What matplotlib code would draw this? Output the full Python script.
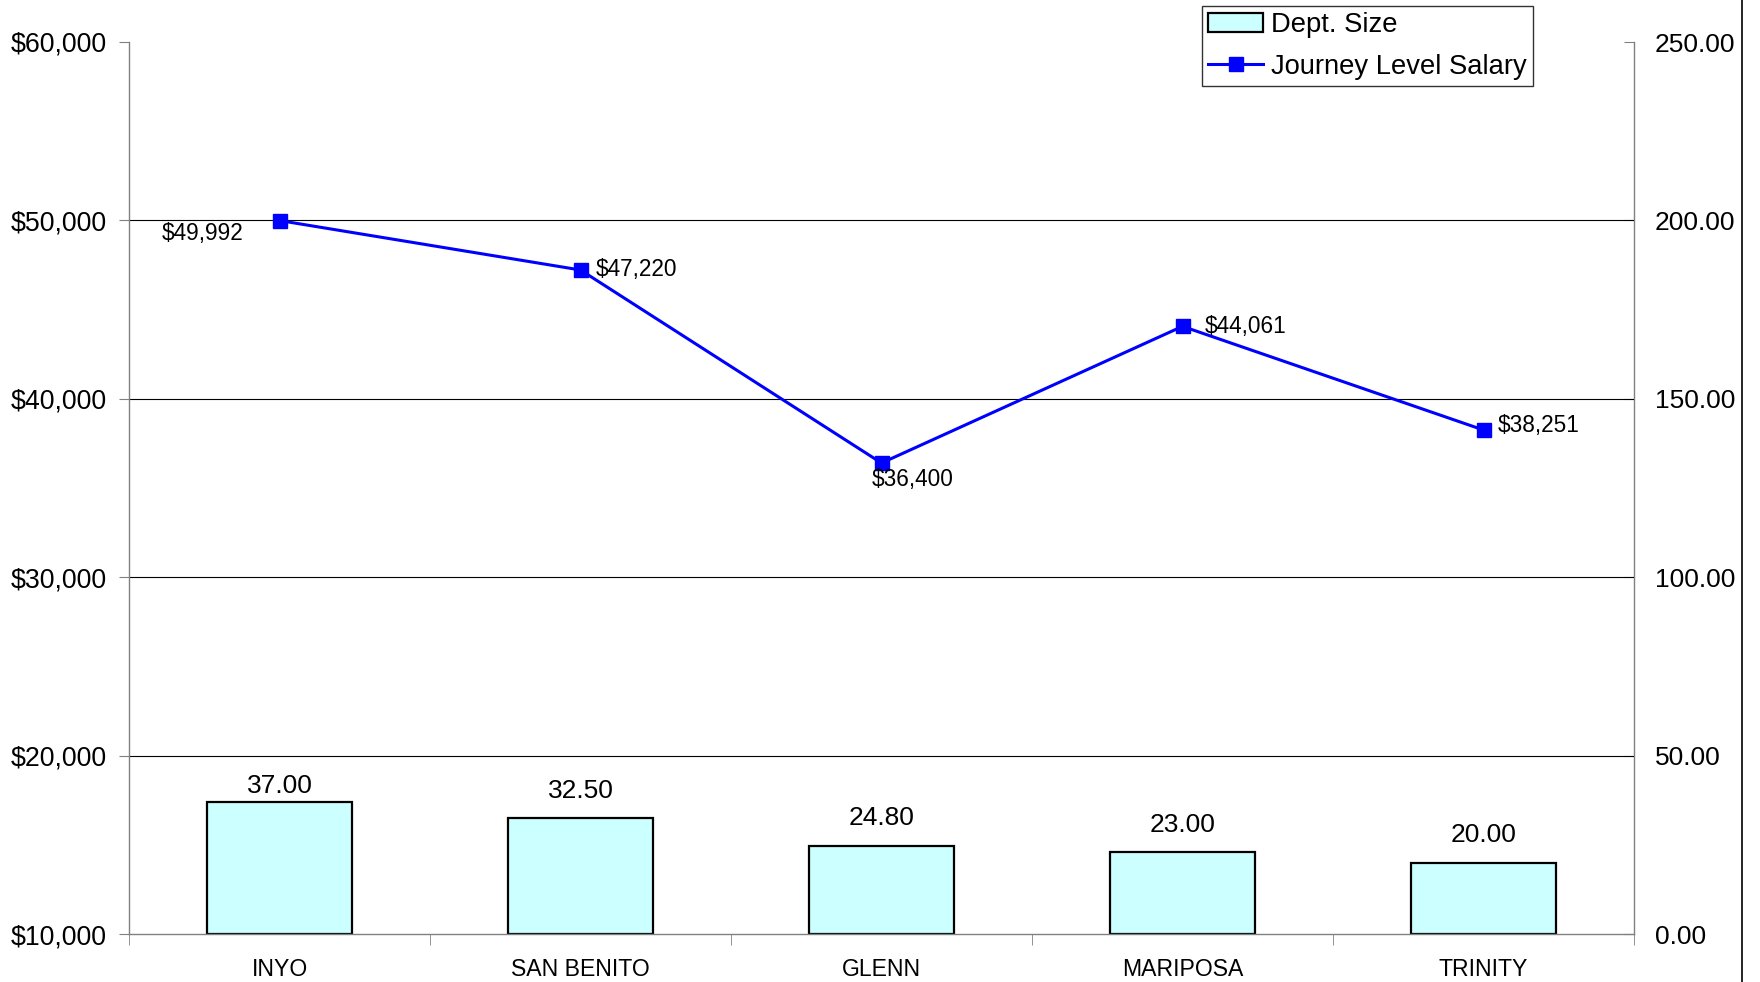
import matplotlib
matplotlib.use("Agg")
import matplotlib.pyplot as plt
from matplotlib.lines import Line2D
from matplotlib.ticker import FuncFormatter

plt.rcParams['font.family'] = ['Liberation Sans', 'DejaVu Sans']

counties = ['INYO', 'SAN BENITO', 'GLENN', 'MARIPOSA', 'TRINITY']
dept_size = [37.00, 32.50, 24.80, 23.00, 20.00]
salary = [49992, 47220, 36400, 44061, 38251]

# per-point label offsets (points) and alignment for the salary labels
lbl_offsets = [(-26, -9, 'right'), (11, 0, 'left'), (-7, -12, 'left'), (16, 0, 'left'), (10, 3, 'left')]
# vertical gap (points) above each bar for its value label
bar_pads = [3, 11, 11, 11, 11]

fig = plt.figure(figsize=(17.6, 9.82), dpi=100)
ax = fig.add_axes([129 / 1760, 1 - 934 / 982, (1634 - 129) / 1760, (934 - 42) / 982])
ax2 = ax.twinx()
ax.set_zorder(2)
ax.patch.set_visible(False)

x = list(range(len(counties)))

# bars on the right scale
bars = ax2.bar(x, dept_size, width=0.48, color='#CCFFFF', edgecolor='black',
               linewidth=1.6, label='Dept. Size')
for xi, v, p in zip(x, dept_size, bar_pads):
    ax2.annotate(f'{v:.2f}', (xi, v), xytext=(0, p), textcoords='offset points',
                 ha='center', va='bottom', fontsize=19)
ax2.set_ylim(0, 250)
ax2.set_yticks([0, 50, 100, 150, 200, 250])
ax2.yaxis.set_major_formatter(FuncFormatter(lambda v, p: f'{v:.2f}'))
ax2.tick_params(axis='y', direction='in', length=7, pad=15, labelsize=19, color='#808080')

# salary line on the left scale
ax.set_ylim(10000, 60000)
yt = [10000, 20000, 30000, 40000, 50000, 60000]
ax.set_yticks(yt)
ax.yaxis.set_major_formatter(FuncFormatter(lambda v, p: f'${v:,.0f}'))
for t in yt[1:-1]:
    ax.axhline(t, color='black', linewidth=0.8, zorder=0)
line, = ax.plot(x, salary, color='#0000FF', linewidth=2.2, marker='s', markersize=10,
                markerfacecolor='#0000FF', markeredgecolor='#0000FF', label='Journey Level Salary')
for xi, s, (dx, dy, ha) in zip(x, salary, lbl_offsets):
    ax.annotate(f'${s:,}', (xi, s), xytext=(dx, dy), textcoords='offset points',
                ha=ha, va='center', fontsize=16.3)

ax.set_xlim(-0.5, len(counties) - 0.5)
ax.set_xticks(x)
ax.set_xticklabels(counties)
ax.set_xticks([i - 0.5 for i in range(len(counties) + 1)], minor=True)
ax.tick_params(axis='x', which='major', length=0, pad=17, labelsize=16.6)
ax.tick_params(axis='x', which='minor', length=8, color='#808080')
ax.tick_params(axis='y', direction='out', length=7, pad=9, labelsize=19.3, color='#808080')

for a in (ax, ax2):
    a.spines['top'].set_visible(False)
    for s in ('left', 'right', 'bottom'):
        a.spines[s].set_color('#808080')
        a.spines[s].set_linewidth(1.0)
ax2.spines['left'].set_visible(False)
ax2.spines['bottom'].set_visible(False)
ax.spines['right'].set_visible(False)

leg = fig.legend([bars, line], ['Dept. Size', 'Journey Level Salary'],
                 loc='upper right', bbox_to_anchor=(1533 / 1760, 1 - 6 / 982),
                 fontsize=19.7, frameon=True, fancybox=False, handlelength=2.0,
                 handletextpad=0.3, borderpad=0.22, labelspacing=0.58, borderaxespad=0)
leg.get_frame().set_edgecolor('black')
leg.get_frame().set_linewidth(1.0)

# chart frame edge at the right
fig.add_artist(Line2D([1742 / 1760, 1742 / 1760], [0, 1], color='black', linewidth=1.2,
                      transform=fig.transFigure))

fig.savefig('out.png', dpi=100)
